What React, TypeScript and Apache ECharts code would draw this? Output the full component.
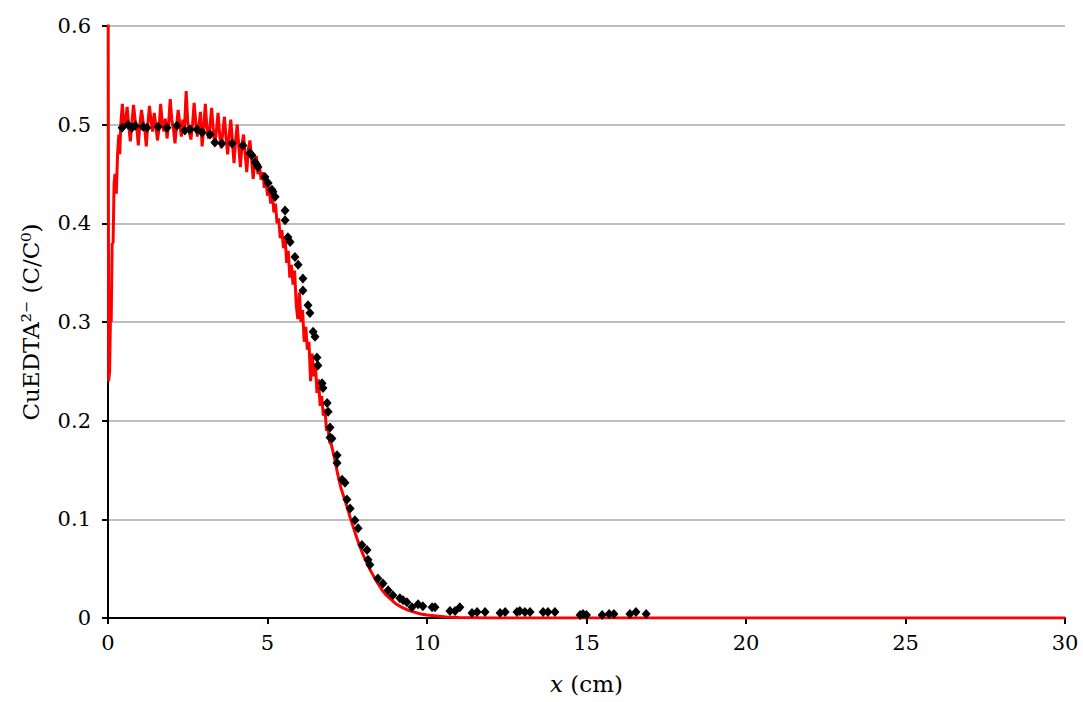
import React, { useEffect, useRef } from "react";
import * as echarts from "echarts";

// Simulated profile (red line): x in cm, C/C0
const simX: number[] = [
  0, 0.02, 0.05, 0.08, 0.1, 0.13, 0.16, 0.19, 0.22, 0.26, 0.3, 0.34, 0.37,
  0.4, 0.45, 0.5, 0.55, 0.6, 0.65, 0.7, 0.75, 0.8, 0.85, 0.9, 0.95,
  1.0, 1.05, 1.1, 1.15, 1.2, 1.25, 1.3, 1.35, 1.4, 1.45, 1.5, 1.55, 1.6, 1.65, 1.7, 1.75, 1.8, 1.85, 1.9, 1.95,
  2.0, 2.05, 2.1, 2.15, 2.2, 2.25, 2.3, 2.35, 2.4, 2.45, 2.5, 2.55, 2.6, 2.65, 2.7, 2.75, 2.8, 2.85, 2.9, 2.95,
  3.0, 3.05, 3.1, 3.15, 3.2, 3.25, 3.3, 3.35, 3.4, 3.45, 3.5, 3.55, 3.6, 3.65, 3.7, 3.75, 3.8, 3.85, 3.9, 3.95,
  4.0, 4.05, 4.1, 4.15, 4.2, 4.25, 4.3, 4.35, 4.4, 4.45, 4.5, 4.55, 4.6, 4.65, 4.7, 4.75, 4.8, 4.85, 4.9, 4.95,
  5.0, 5.05, 5.1, 5.15, 5.2, 5.25, 5.3, 5.35, 5.4, 5.45, 5.5, 5.55, 5.6, 5.65, 5.7, 5.75, 5.8, 5.85, 5.9, 5.95,
  6.0, 6.05, 6.1, 6.15, 6.2, 6.25, 6.3, 6.35, 6.4, 6.45, 6.5, 6.55, 6.6, 6.65, 6.7, 6.75, 6.8, 6.85, 6.9, 6.95,
  7.0, 7.1, 7.2, 7.3, 7.4, 7.5, 7.6, 7.7, 7.8, 7.9, 8.0, 8.1, 8.2, 8.3, 8.4, 8.5, 8.6, 8.7, 8.8, 8.9,
  9.0, 9.2, 9.4, 9.6, 9.8, 10.0, 10.3, 10.6, 11.0, 12.0, 30.0,
];
const simY: number[] = [
  0.75, 0.24, 0.25, 0.31, 0.3, 0.38, 0.38, 0.44, 0.45, 0.43, 0.47, 0.49, 0.47,
  0.5, 0.521, 0.497, 0.503, 0.518, 0.499, 0.483, 0.502, 0.52, 0.505, 0.498, 0.479,
  0.5, 0.515, 0.503, 0.497, 0.478, 0.501, 0.519, 0.504, 0.493, 0.512, 0.499, 0.484, 0.496, 0.521, 0.502, 0.493, 0.506, 0.486, 0.5, 0.526,
  0.505, 0.496, 0.481, 0.499, 0.515, 0.501, 0.488, 0.505, 0.497, 0.534, 0.503, 0.492, 0.485, 0.5, 0.522, 0.503, 0.488, 0.499, 0.513, 0.478,
  0.496, 0.521, 0.497, 0.486, 0.5, 0.517, 0.494, 0.479, 0.495, 0.512, 0.49, 0.476, 0.493, 0.508, 0.487, 0.47, 0.49, 0.505, 0.483, 0.461,
  0.484, 0.5, 0.478, 0.457, 0.48, 0.49, 0.47, 0.452, 0.475, 0.484, 0.466, 0.445, 0.462, 0.468, 0.45, 0.458, 0.444, 0.452, 0.436, 0.444,
  0.428, 0.437, 0.42, 0.431, 0.411, 0.42, 0.4, 0.405, 0.385, 0.393, 0.375, 0.386, 0.36, 0.372, 0.345, 0.358, 0.338, 0.352, 0.318, 0.303,
  0.33, 0.3, 0.312, 0.28, 0.295, 0.272, 0.28, 0.24, 0.268, 0.245, 0.258, 0.228, 0.242, 0.215, 0.225, 0.205, 0.212, 0.19, 0.192, 0.178,
  0.176, 0.162, 0.146, 0.132, 0.122, 0.112, 0.101, 0.091, 0.081, 0.072, 0.064, 0.057, 0.05, 0.044, 0.038, 0.033, 0.028, 0.024, 0.021, 0.018,
  0.015, 0.011, 0.008, 0.006, 0.004, 0.003, 0.002, 0.001, 0.0005, 0, 0,
];

// Measured profile (black diamonds)
const expX: number[] = [
  0.44, 0.63, 0.75, 0.85, 1.1, 1.22, 1.57, 1.85, 2.16, 2.41, 2.57, 2.79, 2.95, 3.2, 3.35, 3.57, 3.89, 4.23,
  4.45, 4.51, 4.61, 4.67, 4.7, 4.92, 5.02, 5.14, 5.17, 5.24, 5.55, 5.55, 5.64, 5.71, 5.86, 5.96,
  6.11, 6.11, 6.27, 6.33, 6.43, 6.49, 6.55, 6.58, 6.71, 6.74, 6.87, 6.9, 6.96, 6.96,
  7.02, 7.18, 7.18, 7.34, 7.43, 7.49, 7.59, 7.74, 7.84, 7.96, 8.12, 8.15, 8.21, 8.46, 8.62, 8.78, 8.93,
  9.15, 9.25, 9.37, 9.53, 9.72, 9.87, 10.16, 10.25, 10.72, 10.88, 11.03, 11.41, 11.57, 11.82,
  12.29, 12.45, 12.82, 12.91, 13.07, 13.23, 13.64, 13.79, 14.01, 14.8, 14.89, 15.0, 15.49, 15.71, 15.86,
  16.36, 16.55, 16.87,
];
const expY: number[] = [
  0.497, 0.5, 0.497, 0.499, 0.498, 0.497, 0.498, 0.497, 0.499, 0.494, 0.495, 0.495, 0.492, 0.49, 0.482, 0.481, 0.481, 0.479,
  0.471, 0.469, 0.462, 0.459, 0.457, 0.447, 0.441, 0.434, 0.432, 0.427, 0.413, 0.403, 0.386, 0.381, 0.366, 0.358,
  0.344, 0.332, 0.317, 0.309, 0.29, 0.285, 0.264, 0.256, 0.238, 0.233, 0.218, 0.209, 0.193, 0.183,
  0.182, 0.165, 0.157, 0.14, 0.137, 0.12, 0.111, 0.099, 0.091, 0.074, 0.069, 0.059, 0.054, 0.04, 0.035, 0.028, 0.023,
  0.02, 0.018, 0.016, 0.011, 0.014, 0.012, 0.011, 0.011, 0.007, 0.007, 0.011, 0.005, 0.006, 0.006,
  0.005, 0.006, 0.006, 0.007, 0.006, 0.006, 0.006, 0.006, 0.006, 0.003, 0.004, 0.003, 0.003, 0.004, 0.004,
  0.004, 0.006, 0.004,
];

const FONT = "DejaVu Serif";

export default function App() {
  const ref = useRef<HTMLDivElement>(null);
  useEffect(() => {
    if (!ref.current) return;
    const chart = echarts.init(ref.current, undefined, { renderer: "svg" });
    const sim = simX.map((x, i) => [x, simY[i]]);
    const exp = expX.map((x, i) => [x, expY[i]]);
    chart.setOption({
      animation: false,
      backgroundColor: "#ffffff",
      grid: { left: 108, right: 18, top: 26, bottom: 84, containLabel: false },
      xAxis: {
        type: "value",
        min: 0,
        max: 30,
        interval: 5,
        name: "{i|x} (cm)",
        nameLocation: "middle",
        nameGap: 54,
        nameTextStyle: {
          fontFamily: FONT,
          fontSize: 23,
          color: "#000",
          rich: { i: { fontFamily: FONT, fontSize: 23, fontStyle: "italic", color: "#000" } },
        },
        axisLine: { show: true, onZero: false, lineStyle: { color: "#000", width: 2 } },
        axisTick: { show: true, inside: false, length: 6, lineStyle: { color: "#000", width: 2 } },
        axisLabel: { fontFamily: FONT, fontSize: 21, color: "#000", margin: 14 },
        splitLine: { show: false },
      },
      yAxis: {
        type: "value",
        min: 0,
        max: 0.6,
        interval: 0.1,
        name: "CuEDTA²⁻ (C/C⁰)",
        nameLocation: "middle",
        nameGap: 66,
        nameRotate: 90,
        nameTextStyle: { fontFamily: FONT, fontSize: 23, color: "#000" },
        axisLine: { show: true, lineStyle: { color: "#000", width: 2 } },
        axisTick: { show: true, inside: false, length: 6, lineStyle: { color: "#000", width: 2 } },
        axisLabel: {
          fontFamily: FONT,
          fontSize: 21,
          color: "#000",
          margin: 17,
          formatter: (v: number) => (v === 0 ? "0" : v.toFixed(1)),
        },
        splitLine: { show: true, lineStyle: { color: "#a8a8a8", width: 1.5 } },
      },
      series: [
        {
          type: "line",
          data: sim,
          showSymbol: false,
          symbol: "none",
          clip: true,
          lineStyle: { color: "#ff0000", width: 3 },
          z: 2,
        },
        {
          type: "scatter",
          data: exp,
          symbol: "diamond",
          symbolSize: [9, 10],
          itemStyle: { color: "#000", opacity: 1 },
          z: 3,
        },
      ],
    });
    return () => chart.dispose();
  }, []);
  return (
    <div
      ref={ref}
      style={{ position: "fixed", left: 0, top: 0, width: 1083, height: 702 }}
    />
  );
}
